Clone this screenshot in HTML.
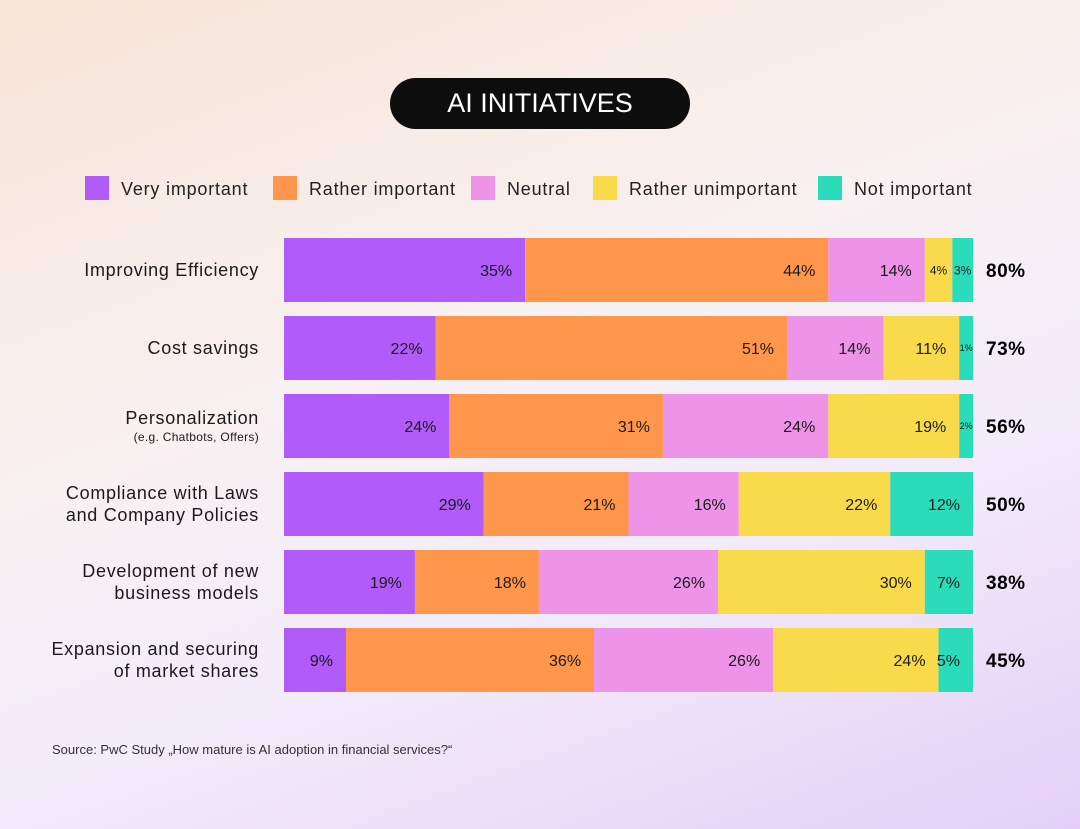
<!DOCTYPE html>
<html><head><meta charset="utf-8"><style>
body{margin:0;width:1080px;height:829px;overflow:hidden;font-family:"Liberation Sans",sans-serif;}
#bg{position:absolute;left:0;top:0;width:1080px;height:829px;background:linear-gradient(160deg,#f8e4d6 0%,#f8f1f1 40%,#f3ecfa 65%,#e4d0f7 100%);}
svg{position:absolute;left:0;top:0}
</style></head><body>
<div id="bg"></div>
<svg id="chart" width="1080" height="829">
<g>
<rect x="390" y="78" width="300" height="51" rx="25.5" fill="#0d0d0d"/>
<text x="540" y="112" text-anchor="middle" fill="#fff" font-size="27">AI INITIATIVES</text>
</g>
<g id="legend"></g>
<g id="bars"></g>
<text x="52" y="754" font-size="13" fill="#333">Source: PwC Study „How mature is AI adoption in financial services?“</text>
</svg>
<script>
const categories=[["Improving Efficiency"],["Cost savings"],["Personalization","(e.g. Chatbots, Offers)"],["Compliance with Laws","and Company Policies"],["Development of new","business models"],["Expansion and securing","of market shares"]];
const seriesNames=["Very important","Rather important","Neutral","Rather unimportant","Not important"];
const veryImportant=[35,22,24,29,19,9];
const ratherImportant=[44,51,31,21,18,36];
const neutral=[14,14,24,16,26,26];
const ratherUnimportant=[4,11,19,22,30,24];
const notImportant=[3,1,2,12,7,5];
const totals=["80%","73%","56%","50%","38%","45%"];
const colors=["#b15cf9","#fe974b","#ed93e8","#f9da4a","#2bdcbb"];
const NS="http://www.w3.org/2000/svg";
function mk(t,a,p){const e=document.createElementNS(NS,t);for(const k in a)e.setAttribute(k,a[k]);p.appendChild(e);return e;}
const X0=284,X1=973,Y0=238,BH=64,PITCH=78;
function xScale(v){return X0+(v/100)*(X1-X0);}
function yScale(i){return Y0+i*PITCH;}
const lg=document.getElementById('legend');
const lgX=[85,273,471,593,818];
seriesNames.forEach((n,i)=>{
 const g=mk('g',{},lg);
 
 
 mk('rect',{x:lgX[i],y:176,width:24,height:24,fill:colors[i]},g);
 const t=mk('text',{x:lgX[i]+36,y:195,'font-size':18,'letter-spacing':'0.8',fill:'#222'},g);t.textContent=n;
});
const bars=document.getElementById('bars');
const series=[veryImportant,ratherImportant,neutral,ratherUnimportant,notImportant];
categories.forEach((c,i)=>{
 const y=yScale(i);
 let cum=0;
 const mkLab=(txt,yy,fs,ls)=>{const t=mk('text',{x:259,y:yy,'text-anchor':'end','font-size':fs,'letter-spacing':ls,fill:'#1a1a1a'},bars);
  
  
  t.textContent=txt;};
 if(c.length===1){mkLab(c[0],y+38,18,0.7);}
 else if(c[1].startsWith('(')){mkLab(c[0],y+30,18,0.7);mkLab(c[1],y+47,12,0.3);}
 else {mkLab(c[0],y+27,18,0.7);mkLab(c[1],y+49,18,0.7);}
 series.forEach((arr,j)=>{
  const x=xScale(cum);
  cum+=arr[i];
  const xe=(j===series.length-1)?X1:xScale(cum);
  const w=xe-x;
  const r=mk('rect',{x:x,y:y,width:w,height:BH,fill:colors[j]},bars);
  
  
  let fs=16,tx=x+w-13,anc='end';
  if(w<30){fs=arr[i]<=2?9:12;tx=x+w/2;anc='middle';}
  const t=mk('text',{x:tx,y:y+BH/2+(fs*0.36),'text-anchor':anc,'font-size':fs,fill:'#1a1a1a'},bars);
  t.textContent=arr[i]+'%';
 });
 const tt=mk('text',{x:986,y:y+39,'font-size':19,'font-weight':'bold','letter-spacing':'0.5',fill:'#000'},bars);
 
 
 tt.textContent=totals[i];
});
</script>
</body></html>
